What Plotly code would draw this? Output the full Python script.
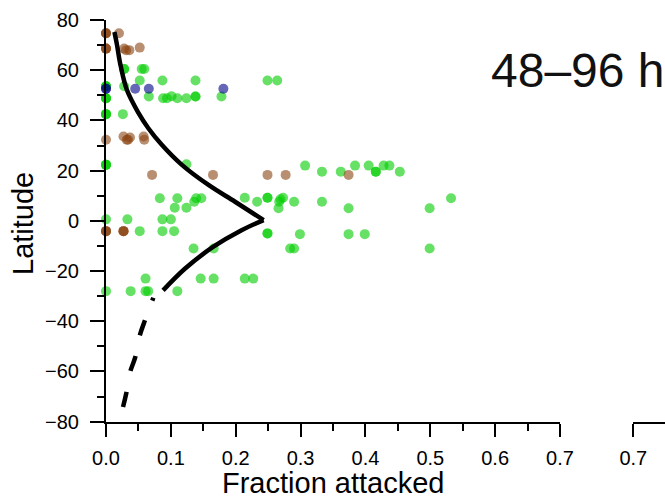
import plotly.graph_objects as go

# ---- data ----
green_frac = [0.028, 0.028, 0.055, 0.059,
              0.052, 0.087, 0.138, 0.249, 0.264,
              0.0, 0.0, 0.0, 0.028,
              0.0, 0.0, 0.0, 0.066, 0.088, 0.094, 0.101, 0.110, 0.124, 0.138, 0.138, 0.178,
              0.0, 0.0, 0.0, 0.026,
              0.0, 0.0, 0.0, 0.124,
              0.307, 0.333, 0.362, 0.384, 0.405, 0.416, 0.416, 0.428, 0.437, 0.453,
              0.083, 0.110, 0.136, 0.139, 0.147, 0.106, 0.124, 0.214, 0.233, 0.249, 0.249,
              0.269, 0.273, 0.267, 0.266, 0.290, 0.333, 0.374, 0.499, 0.532,
              0.0, 0.033, 0.087, 0.100,
              0.052, 0.087, 0.105, 0.249, 0.249, 0.299, 0.374, 0.399,
              0.135, 0.166, 0.284, 0.290, 0.499,
              0.061, 0.146, 0.166, 0.214, 0.227,
              0.0, 0.038, 0.061, 0.065, 0.110]
green_lat = [60.5, 60.5, 60.5, 60.5,
             55.9, 55.9, 55.9, 55.9, 55.9,
             53.6, 53.6, 53.6, 53.6,
             48.8, 48.8, 48.8, 49.5, 48.8, 48.8, 49.6, 48.8, 48.8, 49.5, 49.5, 49.5,
             42.5, 42.5, 42.5, 42.5,
             22.3, 22.3, 22.3, 22.5,
             22.0, 19.6, 19.6, 22.0, 22.0, 19.6, 19.6, 22.0, 22.0, 19.6,
             9.0, 9.0, 7.6, 9.0, 9.0, 5.2, 5.2, 9.2, 7.6, 9.2, 9.2,
             8.6, 9.2, 7.6, 5.0, 7.6, 7.6, 5.0, 5.0, 9.0,
             0.6, 0.6, 0.6, 0.6,
             -4.1, -4.1, -4.1, -5.0, -5.0, -5.3, -5.3, -5.3,
             -11.0, -11.0, -11.0, -11.0, -11.0,
             -23.0, -23.0, -23.0, -23.0, -23.0,
             -28.0, -28.0, -28.0, -28.0, -28.0]

brown_frac = [0.0, 0.0, 0.0, 0.020,
              0.0, 0.0, 0.0, 0.028, 0.031, 0.036, 0.052,
              0.0, 0.027, 0.032, 0.037, 0.034, 0.058, 0.059,
              0.071, 0.165, 0.249, 0.277, 0.374,
              0.0, 0.0, 0.0, 0.027, 0.027, 0.027]
brown_lat = [74.7, 74.7, 74.7, 74.7,
             68.6, 68.6, 68.6, 68.6, 68.0, 68.0, 69.0,
             32.3, 33.6, 32.3, 33.2, 32.3, 33.6, 32.3,
             18.3, 18.3, 18.3, 18.3, 18.3,
             -4.1, -4.1, -4.1, -4.1, -4.1, -4.1]

blue_frac = [0.0, 0.0, 0.045, 0.066, 0.181]
blue_lat = [52.6, 52.6, 52.6, 52.6, 52.6]

curve_n_frac = [0.013, 0.017, 0.0216, 0.032, 0.050, 0.065, 0.086, 0.117, 0.158, 0.199, 0.243]
curve_n_lat = [75.2, 70.0, 63.0, 52.3, 43.0, 37.0, 30.3, 22.3, 14.3, 7.6, 0.3]
curve_s_frac = [0.243, 0.209, 0.165, 0.122, 0.088]
curve_s_lat = [0.3, -3.7, -10.4, -19.0, -27.7]
curve_dash_frac = [0.073, 0.060, 0.052, 0.045, 0.037, 0.031, 0.025]
curve_dash_lat = [-30.6, -39.7, -45.7, -54.4, -60.4, -69.0, -75.4]

x_ticks = [0.0, 0.1, 0.2, 0.3, 0.4, 0.5, 0.6, 0.7]
y_ticks = [-80, -60, -40, -20, 0, 20, 40, 60, 80]
panel_label = "48–96 h"

FONT = "Liberation Sans, Arial, Helvetica, sans-serif"
W, H = 665, 501


def px(v):
    return v / W


def py(v):
    return 1 - v / H


fig = go.Figure()


def pts(xs, ys, color):
    fig.add_trace(go.Scatter(x=xs, y=ys, mode="markers", cliponaxis=False,
                             marker=dict(size=10, color=color, opacity=0.6,
                                         line=dict(width=0)),
                             hoverinfo="skip", showlegend=False))


pts(green_frac, green_lat, "#00CD00")
pts(brown_frac, brown_lat, "#8B4513")
pts(blue_frac, blue_lat, "#00008B")

for xs, ys, dash in [(curve_n_frac, curve_n_lat, "solid"),
                     (curve_s_frac, curve_s_lat, "solid"),
                     (curve_dash_frac, curve_dash_lat,
                      "3px,21px,16px,21px,16px,21px,16px,40px")]:
    fig.add_trace(go.Scatter(x=xs, y=ys, mode="lines", cliponaxis=False,
                             line=dict(color="black", width=4.5, shape="spline",
                                       smoothing=1, dash=dash),
                             hoverinfo="skip", showlegend=False))

# neighbouring panel's axis stub
fig.add_trace(go.Scatter(x=[], y=[], xaxis="x2", yaxis="y", showlegend=False))

axis_common = dict(showline=True, linecolor="black", linewidth=2,
                   ticks="outside", tickcolor="black", tickwidth=2,
                   showgrid=False, zeroline=False, fixedrange=True,
                   automargin=False)

fig.update_layout(
    width=W, height=H,
    margin=dict(l=0, r=0, t=0, b=0, autoexpand=False),
    paper_bgcolor="white", plot_bgcolor="white",
    font=dict(family=FONT, color="black"),
    hovermode=False,
    xaxis=dict(domain=[px(106), px(560)], range=[0, 0.7], anchor="y",
               tickvals=x_ticks, ticktext=[f"{v:.1f}" for v in x_ticks],
               ticklen=13, tickfont=dict(size=20), ticklabelstandoff=4,
               minor=dict(dtick=0.05, tick0=0, ticklen=7, tickwidth=2,
                          tickcolor="black", ticks="outside", showgrid=False),
               **axis_common),
    xaxis2=dict(domain=[px(633.3), 1.0],
                range=[0.7, 0.7 + (W - 633.3) / 648.6],
                anchor="y", tickvals=[0.7], ticktext=["0.7"],
                ticklen=13, tickfont=dict(size=20), ticklabelstandoff=4,
                **axis_common),
    yaxis=dict(domain=[py(421.7), py(20)], range=[-80, 80], anchor="x",
               tickvals=y_ticks, ticktext=[f"{v}".replace("-", "−") for v in y_ticks],
               ticklen=14, tickfont=dict(size=20), ticklabelstandoff=7,
               minor=dict(dtick=10, tick0=0, ticklen=7, tickwidth=2,
                          tickcolor="black", ticks="outside", showgrid=False),
               **axis_common),
    annotations=[
        dict(text="Fraction attacked", x=px(333), y=py(483), xref="paper",
             yref="paper", xanchor="center", yanchor="middle", showarrow=False,
             font=dict(size=29, family=FONT, color="black")),
        dict(text="Latitude", x=px(23), y=py(224), xref="paper", yref="paper",
             xanchor="center", yanchor="middle", showarrow=False, textangle=-90,
             font=dict(size=29, family=FONT, color="black")),
        dict(text=panel_label, x=px(578), y=py(71), xref="paper", yref="paper",
             xanchor="center", yanchor="middle", showarrow=False,
             font=dict(size=48, family=FONT, color="#111111")),
    ],
)

fig.write_html(
    "out.html",
    config={"displayModeBar": False, "staticPlot": True},
    post_script="document.body.style.margin='0';document.body.style.overflow='hidden';",
)
